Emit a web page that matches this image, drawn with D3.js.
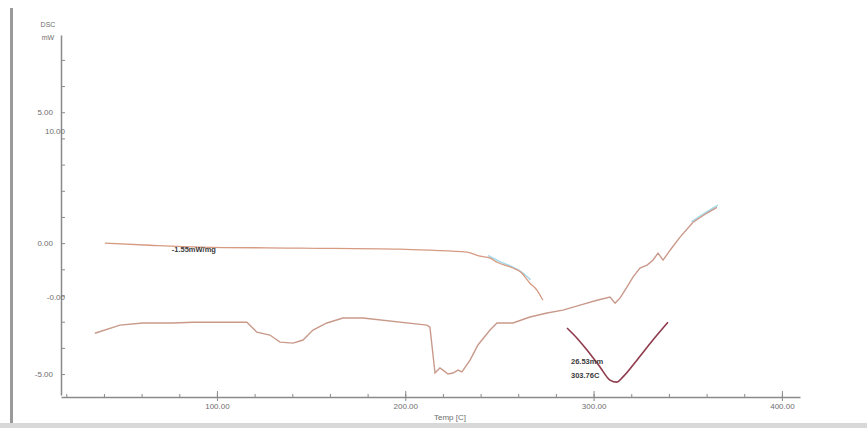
<!DOCTYPE html>
<html>
<head>
<meta charset="utf-8">
<script src="https://cdn.jsdelivr.net/npm/d3@7"></script>
<style>
  html, body { margin: 0; padding: 0; background: #fff; }
  svg { display: block; font-family: "Liberation Sans", "DejaVu Sans", sans-serif; }
</style>
</head>
<body>
<svg id="chart" width="867" height="428"></svg>
<script>
// ---- data (temperature in °C, heat flow in mW) ----
const upperT = [40.5, 64.4, 91.0, 144.1, 197.2, 213.1, 232.8, 239.7, 245.0, 248.7, 257.2, 261.4, 266.2, 269.9, 273.1];
const upperV = [0.00, -0.08, -0.15, -0.19, -0.23, -0.27, -0.34, -0.50, -0.57, -0.73, -0.95, -1.11, -1.53, -1.79, -2.18];

const upperFitT = [244.0, 250.0, 256.0, 262.0, 266.5];
const upperFitV = [-0.47, -0.70, -0.88, -1.12, -1.40];

const lowerT = [35.2, 48.5, 60.7, 76.6, 87.3, 115.9, 121.2, 128.1, 133.5, 140.4, 145.7, 151.0, 158.4, 166.9, 177.5,
                211.5, 213.1, 215.8, 218.4, 220.0, 222.7, 225.3, 228.0, 230.1, 234.4, 238.6, 245.0, 248.7, 257.2,
                266.2, 275.3, 283.7, 292.8, 301.8, 308.7, 311.4, 314.0, 317.7, 320.9, 324.6, 328.4, 331.5, 334.2,
                336.9, 340.6, 345.9, 352.8, 360.2, 365.5];
const lowerV = [-3.44, -3.13, -3.05, -3.05, -3.02, -3.02, -3.40, -3.51, -3.78, -3.82, -3.70, -3.32, -3.05, -2.86, -2.86,
                -3.13, -3.21, -4.96, -4.77, -4.85, -5.00, -4.96, -4.85, -4.92, -4.47, -3.89, -3.32, -3.05, -3.05,
                -2.82, -2.67, -2.56, -2.37, -2.18, -2.06, -2.29, -2.10, -1.68, -1.30, -0.95, -0.84, -0.65, -0.38,
                -0.65, -0.27, 0.23, 0.80, 1.15, 1.37];

const lowerFitT = [352.0, 358.0, 364.0, 366.0];
const lowerFitV = [0.82, 1.10, 1.36, 1.45];

const peakT = [285.9, 291.2, 296.5, 303.4, 308.7, 312.4, 315.6, 323.0, 331.5, 339.5];
const peakV = [-3.24, -3.63, -4.08, -4.73, -5.23, -5.31, -5.11, -4.47, -3.70, -3.02];

const xMajorTicks = [100, 200, 300, 400];
const xMajorLabels = ["100.00", "200.00", "300.00", "400.00"];
const xMinorTicks = d3.range(20, 401, 20);
const yTicks = d3.range(-5, 8, 1);
const yLabelValues = [5, 0, -5];
const yLabelTexts = ["5.00", "0.00", "-5.00"];
const yOddLabelValues = [4.3, -2.05];
const yOddLabelTexts = ["10.00", "-0.00"];

const annotations = [
  { t: 76, v: -0.32, text: "-1.55mW/mg" },
  { t: 288, v: -4.62, text: "26.53mm" },
  { t: 288, v: -5.16, text: "303.76C" }
];

// ---- scales ----
const svg = d3.select("#chart");
const x = d3.scaleLinear().domain([17.2, 409.6]).range([61, 800]);
const y = d3.scaleLinear().domain([-5.8, 7.95]).range([395, 35]);

// frame decorations
svg.append("rect").attr("x", 10).attr("y", 8).attr("width", 3).attr("height", 416).attr("fill", "#9a9a9a");
svg.append("rect").attr("x", 0).attr("y", 423).attr("width", 867).attr("height", 5).attr("fill", "#d8d8d8");

const axisColor = "#8a8a8a";
const textColor = "#6e6e6e";

// y axis
const yAxis = svg.append("g").attr("transform", `translate(${x(17.2)},0)`)
  .call(d3.axisRight(y).tickValues(yTicks).tickSize(4).tickSizeOuter(0).tickFormat(""));
yAxis.select(".domain").attr("stroke", axisColor).attr("stroke-width", 1.5);
yAxis.selectAll(".tick line").attr("stroke", axisColor);

svg.append("g").selectAll("text").data(yLabelValues).join("text")
  .attr("x", 53).attr("y", (d) => y(d) + 3)
  .attr("text-anchor", "end").attr("font-size", 8).attr("fill", textColor)
  .text((d, i) => yLabelTexts[i]);
svg.append("g").selectAll("text").data(yOddLabelValues).join("text")
  .attr("x", 65).attr("y", (d) => y(d) + 3)
  .attr("text-anchor", "end").attr("font-size", 8).attr("fill", textColor)
  .text((d, i) => yOddLabelTexts[i]);

svg.append("text").attr("x", 48).attr("y", 27).attr("text-anchor", "middle")
  .attr("font-size", 7).attr("fill", textColor).text("DSC");
svg.append("text").attr("x", 48).attr("y", 40).attr("text-anchor", "middle")
  .attr("font-size", 7).attr("fill", textColor).text("mW");

// x axis
const xAxisY = 397;
const xMinor = svg.append("g").attr("transform", `translate(0,${xAxisY})`)
  .call(d3.axisBottom(x).tickValues(xMinorTicks).tickSize(-3).tickSizeOuter(0).tickFormat(""));
xMinor.select(".domain").attr("stroke", axisColor).attr("stroke-width", 1.5);
xMinor.selectAll(".tick line").attr("stroke", axisColor);

const xMajor = svg.append("g").attr("transform", `translate(0,${xAxisY})`)
  .call(d3.axisBottom(x).tickValues(xMajorTicks).tickSize(4).tickSizeOuter(0).tickPadding(2)
    .tickFormat((d, i) => xMajorLabels[i]));
xMajor.select(".domain").remove();
xMajor.selectAll(".tick line").attr("stroke", axisColor).attr("y1", -6);
xMajor.selectAll(".tick text").attr("fill", textColor).attr("font-size", 8)
  .attr("font-family", "'Liberation Sans', sans-serif");

svg.append("text").attr("x", 450).attr("y", 420).attr("text-anchor", "middle")
  .attr("font-size", 8).attr("fill", textColor).text("Temp [C]");

// curves
const line = d3.line().x((d) => x(d[0])).y((d) => y(d[1])).curve(d3.curveMonotoneX);
const zip = (a, b) => a.map((t, i) => [t, b[i]]);

svg.append("path").datum(zip(upperFitT, upperFitV)).attr("d", line)
  .attr("fill", "none").attr("stroke", "#a9dbe8").attr("stroke-width", 1.6);
svg.append("path").datum(zip(lowerFitT, lowerFitV)).attr("d", line)
  .attr("fill", "none").attr("stroke", "#a9dbe8").attr("stroke-width", 1.6);

svg.append("path").datum(zip(upperT, upperV)).attr("d", line)
  .attr("fill", "none").attr("stroke", "#d69a82").attr("stroke-width", 1.3);
svg.append("path").datum(zip(lowerT, lowerV)).attr("d", d3.line().x((d) => x(d[0])).y((d) => y(d[1])))
  .attr("fill", "none").attr("stroke", "#c9998a").attr("stroke-width", 1.4);
svg.append("path").datum(zip(peakT, peakV)).attr("d", line)
  .attr("fill", "none").attr("stroke", "#8e3a4c").attr("stroke-width", 1.6);

// annotations
svg.append("g").selectAll("text").data(annotations).join("text")
  .attr("x", (d) => x(d.t)).attr("y", (d) => y(d.v))
  .attr("font-size", 7.5).attr("font-weight", "bold").attr("fill", "#3a3a3a")
  .text((d) => d.text);
</script>
</body>
</html>
